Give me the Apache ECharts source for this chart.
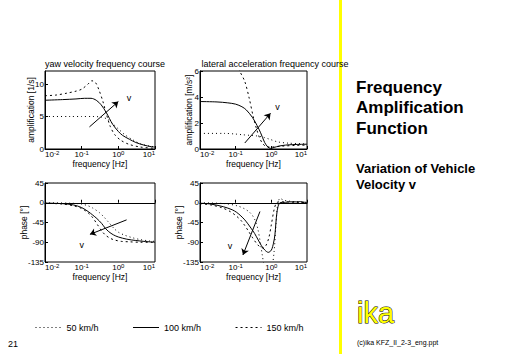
<!DOCTYPE html>
<html>
<head>
<meta charset="utf-8">
<script src="https://cdn.jsdelivr.net/npm/echarts@6/dist/echarts.min.js"></script>
<style>
  html, body { margin: 0; padding: 0; background: #fff; }
  #chart { width: 512px; height: 354px; }
</style>
</head>
<body>
<div id="chart"></div>
<script>
// speeds shown in every panel
var speeds = ['50 km/h', '100 km/h', '150 km/h'];

// --- yaw velocity amplification [1/s]
var yawAmpF50 = [0.01, 0.05, 0.1, 0.2, 0.35, 0.5, 0.7, 1.0, 1.5, 2.5, 4, 7, 10];
var yawAmp50 = [5.0, 5.0, 5.0, 5.0, 4.9, 4.6, 3.9, 3.1, 2.2, 1.4, 0.8, 0.45, 0.35];
var yawAmpF100 = [0.01, 0.03, 0.07, 0.12, 0.18, 0.25, 0.34, 0.47, 0.7, 1.0, 1.3, 2, 3, 5, 8, 10];
var yawAmp100 = [7.5, 7.6, 7.7, 7.8, 7.8, 7.5, 6.8, 5.6, 3.8, 2.7, 2.1, 1.5, 1.0, 0.6, 0.35, 0.3];
var yawAmpF150 = [0.01, 0.02, 0.04, 0.07, 0.1, 0.15, 0.19, 0.24, 0.3, 0.38, 0.46, 0.6, 0.8, 1.2, 2, 4, 10];
var yawAmp150 = [8.2, 8.3, 8.6, 8.9, 9.2, 10.0, 10.5, 10.2, 9.0, 7.3, 5.6, 3.5, 2.2, 1.3, 0.7, 0.3, 0.1];

// --- lateral acceleration amplification [m/s^2]
var latAmpF50 = [0.01, 0.05, 0.1, 0.15, 0.25, 0.4, 0.6, 0.9, 1.5, 3, 10];
var latAmp50 = [1.2, 1.2, 1.15, 1.1, 1.05, 1.0, 0.9, 0.75, 0.55, 0.45, 0.4];
var latAmpF100 = [0.01, 0.03, 0.06, 0.1, 0.15, 0.2, 0.3, 0.4, 0.5, 0.65, 0.8, 0.95, 1.2, 1.6, 2.5, 4, 7, 10];
var latAmp100 = [3.65, 3.62, 3.55, 3.45, 3.25, 3.0, 2.4, 1.8, 1.25, 0.5, 0.15, 0.05, 0.12, 0.22, 0.3, 0.34, 0.36, 0.37];
var latAmpF150 = [0.01, 0.05, 0.09, 0.13, 0.18, 0.24, 0.31, 0.38, 0.46, 0.56, 0.7, 1.0, 2, 5, 10];
var latAmp150 = [8.5, 8.6, 7.2, 6.0, 5.2, 3.9, 2.5, 1.6, 0.9, 0.45, 0.2, 0.15, 0.22, 0.28, 0.3];

// --- yaw velocity phase [deg]
var yawPhF50 = [0.01, 0.05, 0.1, 0.15, 0.2, 0.3, 0.4, 0.55, 0.75, 1.0, 1.5, 2.5, 4, 7, 10];
var yawPh50 = [0, -1, -3, -7, -12, -22, -32, -45, -58, -67, -74, -80, -84, -87, -88];
var yawPhF100 = [0.01, 0.03, 0.06, 0.1, 0.15, 0.2, 0.26, 0.35, 0.44, 0.55, 0.73, 1.0, 1.7, 3, 5, 10];
var yawPh100 = [-1, -2, -5, -11, -20, -28, -36, -47, -58, -66, -73, -78, -83, -86, -88, -90];
var yawPhF150 = [0.01, 0.03, 0.06, 0.1, 0.15, 0.2, 0.27, 0.35, 0.45, 0.6, 0.8, 1.2, 2, 4, 10];
var yawPh150 = [-1, -3, -7, -13, -23, -34, -50, -64, -74, -81, -85, -88, -89, -90, -90];

// --- lateral acceleration phase [deg]
var latPhF50 = [0.01, 0.05, 0.11, 0.18, 0.24, 0.29, 0.35, 0.42, 0.5, 0.56, 0.62, 0.75, 0.9, 1.05, 1.2, 1.35, 1.5, 1.75, 2.2, 3, 5, 10];
var latPh50 = [0, -2, -7, -14, -21, -28, -40, -60, -95, -120, -140, -155, -155, -145, -110, -50, -5, 10, 6, 4, 2, 1];
var latPhF100 = [0.01, 0.02, 0.045, 0.08, 0.107, 0.14, 0.18, 0.22, 0.27, 0.34, 0.43, 0.53, 0.66, 0.82, 1.0, 1.15, 1.26, 1.45, 1.75, 2.5, 3.3, 5, 6.3, 10];
var latPh100 = [-1, -3, -9, -16, -22, -30, -39, -48, -58, -70, -85, -98, -108, -113, -108, -92, -73, -20, 0, 1, 2, 2, 2.5, 0];
var latPhF150 = [0.01, 0.02, 0.04, 0.07, 0.1, 0.14, 0.18, 0.23, 0.3, 0.38, 0.47, 0.58, 0.7, 0.85, 1.0, 1.2, 1.4, 1.7, 2.5, 5, 10];
var latPh150 = [-2, -5, -11, -20, -29, -40, -52, -65, -80, -92, -100, -103, -98, -80, -50, -15, 0, 2, 2, 1, 0];

// "v" arrows (start, end) and label spot, in data units
var arrows = [
  [[0.163, 3.4], [1.0, 7.3]],
  [[0.18, 0.46], [0.95, 2.75]],
  [[1.68, -39], [0.168, -72]],
  [[0.48, -20], [0.16, -119]]
];
var vLabels = [[1.95, 7.8], [1.5, 3.2], [0.1, -96], [0.069, -98]];

var titles = ['yaw velocity frequency course', 'lateral acceleration frequency course'];
var yNames = ['amplification [1/s]', 'amplification [m/s\u00b2]', 'phase [\u00b0]', 'phase [\u00b0]'];

var FONT = '"Liberation Sans", Arial, Helvetica, sans-serif';
var dashes = { '50 km/h': [1, 3], '100 km/h': 'solid', '150 km/h': [2, 3] };

var grids = [
  { left: 45, top: 71, width: 110, height: 78 },
  { left: 200, top: 71, width: 107, height: 78 },
  { left: 45, top: 183, width: 110, height: 79 },
  { left: 200, top: 183, width: 107, height: 79 }
];
var yRanges = [[0, 12, 5], [0, 6, 2], [-135, 45, 45], [-135, 45, 45]];
var yNameGaps = [10, 7, 17, 17];

function pairs(f, v) { return f.map(function (x, i) { return [x, v[i]]; }); }

var curves = [
  [pairs(yawAmpF50, yawAmp50), pairs(yawAmpF100, yawAmp100), pairs(yawAmpF150, yawAmp150)],
  [pairs(latAmpF50, latAmp50), pairs(latAmpF100, latAmp100), pairs(latAmpF150, latAmp150)],
  [pairs(yawPhF50, yawPh50), pairs(yawPhF100, yawPh100), pairs(yawPhF150, yawPh150)],
  [pairs(latPhF50, latPh50), pairs(latPhF100, latPh100), pairs(latPhF150, latPh150)]
];

var xAxes = [], yAxes = [], series = [];
grids.forEach(function (g, i) {
  g.show = true; g.borderColor = '#000'; g.borderWidth = 1;
  xAxes.push({
    type: 'log', logBase: 10, min: 0.01, max: 10, gridIndex: i,
    name: 'frequency [Hz]', nameLocation: 'middle', nameGap: 10, nameMoveOverlap: false,
    nameTextStyle: { fontFamily: FONT, fontSize: 8.5, color: '#000' },
    axisLine: { lineStyle: { color: '#000', width: 1 } },
    axisTick: { inside: true, length: 3, lineStyle: { color: '#000' } },
    splitLine: { show: false },
    axisLabel: {
      margin: 1, color: '#000', alignMinLabel: 'left', alignMaxLabel: 'right',
      formatter: function (v) { return '{b|10}{e|' + Math.round(Math.log10(v)) + '}'; },
      rich: {
        b: { fontFamily: FONT, fontSize: 8, color: '#000', lineHeight: 8 },
        e: { fontFamily: FONT, fontSize: 6, color: '#000', verticalAlign: 'top', lineHeight: 6 }
      }
    }
  });
  var r = yRanges[i];
  yAxes.push({
    type: 'value', gridIndex: i, min: r[0], max: r[1], interval: r[2],
    name: yNames[i], nameLocation: 'middle', nameRotate: 90, nameGap: yNameGaps[i], nameMoveOverlap: false,
    nameTextStyle: { fontFamily: FONT, fontSize: 8.5, color: '#000' },
    axisLine: { show: true, lineStyle: { color: '#000', width: 1 } },
    axisTick: { show: true, inside: true, length: 3, lineStyle: { color: '#000' } },
    splitLine: { show: false },
    axisLabel: { margin: 1, fontFamily: FONT, fontSize: 8, color: '#000', showMaxLabel: i !== 0 }
  });
  speeds.forEach(function (s, k) {
    var ser = {
      type: 'line', name: s, xAxisIndex: i, yAxisIndex: i,
      data: curves[i][k], symbol: 'none', smooth: 0.3, clip: true,
      lineStyle: { color: '#000', width: 1, type: dashes[s] },
      itemStyle: { color: '#000' }
    };
    if (k === 1) {
      ser.markLine = {
        silent: true, symbol: ['none', 'arrow'], symbolSize: 6,
        label: { show: false },
        lineStyle: { color: '#000', width: 1, type: 'solid' },
        data: [[{ coord: arrows[i][0] }, { coord: arrows[i][1] }]]
      };
      ser.markPoint = {
        silent: true, symbol: 'circle', symbolSize: 0,
        label: { show: true, formatter: 'v', color: '#000', fontFamily: FONT, fontSize: 9, position: 'inside' },
        data: [{ coord: vLabels[i] }]
      };
    }
    series.push(ser);
  });
});

function txt(x, y, text, font, extra) {
  var st = { text: text, font: font, fill: '#000', align: 'left', verticalAlign: 'middle',
             textAlign: 'left', textVerticalAlign: 'middle' };
  if (extra) Object.keys(extra).forEach(function (k) { st[k] = extra[k]; });
  return { type: 'text', x: x, y: y, z: 10, style: st };
}

var chart = echarts.init(document.getElementById('chart'), null, { renderer: 'svg' });
chart.setOption({
  animation: false,
  backgroundColor: '#fff',
  grid: grids,
  xAxis: xAxes,
  yAxis: yAxes,
  series: series,
  legend: {
    data: speeds, left: 30, top: 318, itemWidth: 26, itemHeight: 6, itemGap: 34,
    itemStyle: { opacity: 0 }, lineStyle: { width: 1 },
    textStyle: { fontFamily: FONT, fontSize: 9, color: '#000' }, selectedMode: false
  },
  graphic: [
    { type: 'rect', x: 339, y: 0, z: 0, shape: { width: 3, height: 354 }, style: { fill: '#ffff00' } },
    txt(105, 64, titles[0], '9px ' + FONT, { align: 'center', textAlign: 'center' }),
    txt(275, 64, titles[1], '9px ' + FONT, { align: 'center', textAlign: 'center' }),
    txt(356, 87.5, 'Frequency', 'bold 17px ' + FONT),
    txt(356, 107.5, 'Amplification', 'bold 17px ' + FONT),
    txt(356, 128, 'Function', 'bold 17px ' + FONT),
    txt(356, 168.5, 'Variation of Vehicle', 'bold 13px ' + FONT),
    txt(356, 184.5, 'Velocity v', 'bold 13px ' + FONT),
    txt(357, 313, 'ika', '29px ' + FONT, { fill: '#ffff00', stroke: '#000', lineWidth: 1 }),
    txt(357, 342, '(c)ika KFZ_II_2-3_eng.ppt', '7px ' + FONT),
    txt(8, 344, '21', '9px ' + FONT)
  ]
});
</script>
</body>
</html>
